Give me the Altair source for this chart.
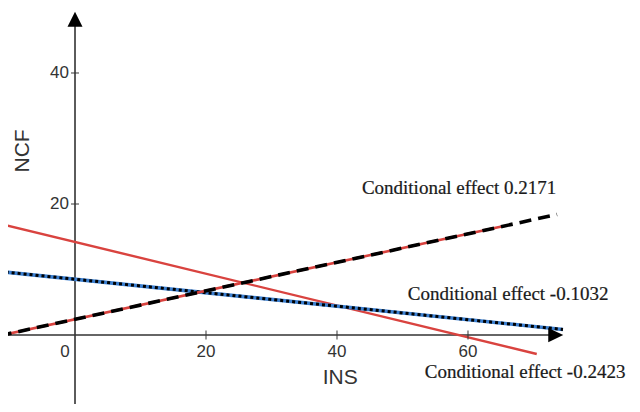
import altair as alt
import pandas as pd

# ---- data ----
low_x = [-11.5, 70.5]
low_y = [17.0, -2.9]
mid_x = [-11.5, 74.5]
mid_y = [9.7, 0.85]
high_red_x = [-11.5, 65.3]
high_red_y = [-0.1, 16.6]
high_dash_x = [-11.5, 73.6]
high_dash_y = [-0.1, 18.4]

x_ticks = [20, 40, 60]
y_ticks = [20, 40]

labels = ["Conditional effect 0.2171", "Conditional effect -0.1032", "Conditional effect -0.2423"]
label_x = [43.8, 50.8, 53.4]
label_y = [22.4, 6.3, -5.6]

XD = [-10.23, 85.04]
YD = [-10.53, 49.92]

xs = alt.Scale(domain=XD, nice=False, zero=False)
ys = alt.Scale(domain=YD, nice=False, zero=False)

def seg(x, y):
    return pd.DataFrame({"x": x, "y": y})

def line(df, color, width, dash=None):
    kw = dict(color=color, strokeWidth=width, clip=True)
    if dash:
        kw["strokeDash"] = dash
    return alt.Chart(df).mark_line(**kw).encode(
        x=alt.X("x:Q", scale=xs, axis=None), y=alt.Y("y:Q", scale=ys, axis=None))

axis_color = "#333333"

# axes lines
yaxis = alt.Chart(seg([0, 0], [YD[0], 48.5])).mark_line(color=axis_color, strokeWidth=1.6, clip=True).encode(
    x=alt.X("x:Q", scale=xs, axis=None), y=alt.Y("y:Q", scale=ys, axis=None))
xaxis = alt.Chart(seg([XD[0], 73.0], [0, 0])).mark_line(color=axis_color, strokeWidth=1.6, clip=True).encode(
    x=alt.X("x:Q", scale=xs, axis=None), y=alt.Y("y:Q", scale=ys, axis=None))

up_arrow = alt.Chart(pd.DataFrame({"x": [0], "y": [48.2]})).mark_point(
    shape="M0,-1L1,1L-1,1Z", size=225, filled=True, color="#000000", opacity=1, strokeWidth=0).encode(
    x=alt.X("x:Q", scale=xs, axis=None), y=alt.Y("y:Q", scale=ys, axis=None))
right_arrow = alt.Chart(pd.DataFrame({"x": [73.4], "y": [0]})).mark_point(
    shape="M1,0L-1,-0.95L-1,0.95Z", size=225, filled=True, color="#000000", opacity=1, strokeWidth=0).encode(
    x=alt.X("x:Q", scale=xs, axis=None), y=alt.Y("y:Q", scale=ys, axis=None))

xt_df = pd.DataFrame({"x": x_ticks, "y": [0] * len(x_ticks)})
yt_df = pd.DataFrame({"x": [0] * len(y_ticks), "y": y_ticks})

xtick_marks = alt.Chart(xt_df).mark_tick(orient="vertical", size=9, thickness=1.4, color=axis_color).encode(
    x=alt.X("x:Q", scale=xs, axis=None), y=alt.Y("y:Q", scale=ys, axis=None))
ytick_marks = alt.Chart(yt_df).mark_tick(orient="horizontal", size=8, thickness=1.4, color=axis_color).encode(
    x=alt.X("x:Q", scale=xs, axis=None), y=alt.Y("y:Q", scale=ys, axis=None))

xtick_labels = alt.Chart(xt_df).mark_text(font="Liberation Sans", fontSize=17, color=axis_color,
                                          baseline="middle", dy=17).encode(
    x=alt.X("x:Q", scale=xs, axis=None), y=alt.Y("y:Q", scale=ys, axis=None), text=alt.Text("x:Q"))
zero_label = alt.Chart(pd.DataFrame({"x": [0], "y": [0]})).mark_text(font="Liberation Sans", fontSize=17,
                                                                   color=axis_color, baseline="middle", dy=17, dx=-10).encode(
    x=alt.X("x:Q", scale=xs, axis=None), y=alt.Y("y:Q", scale=ys, axis=None), text=alt.Text("x:Q"))
ytick_labels = alt.Chart(yt_df).mark_text(font="Liberation Sans", fontSize=17, color=axis_color,
                                          baseline="middle", align="right", dx=-6, dy=0).encode(
    x=alt.X("x:Q", scale=xs, axis=None), y=alt.Y("y:Q", scale=ys, axis=None), text=alt.Text("y:Q"))

titles = alt.Chart(pd.DataFrame({"x": [-7.9, 40.5], "y": [28.1, -6.6], "t": ["NCF", "INS"], "a": [-90, 0]})).mark_text(
    font="Liberation Sans", fontSize=21, color=axis_color, baseline="middle").encode(
    x=alt.X("x:Q", scale=xs, axis=None), y=alt.Y("y:Q", scale=ys, axis=None), text="t:N",
    angle=alt.Angle("a:Q", scale=None))

ann = alt.Chart(pd.DataFrame({"x": label_x, "y": label_y, "t": labels})).mark_text(
    font="Liberation Serif", fontSize=19, color="#1a1a1a", stroke="#1a1a1a", strokeWidth=0.22,
    align="left", baseline="middle").encode(
    x=alt.X("x:Q", scale=xs, axis=None), y=alt.Y("y:Q", scale=ys, axis=None), text="t:N")

red = "#d9433f"
blue = "#3b7fd0"

chart = alt.layer(
    yaxis, xaxis,
    line(seg(low_x, low_y), red, 2.4),
    line(seg(mid_x, mid_y), blue, 3.6),
    line(seg(mid_x, mid_y), "#000000", 3.0, [3, 3]),
    line(seg(high_red_x, high_red_y), red, 2.6),
    line(seg(high_dash_x, high_dash_y), "#000000", 3.6, [12, 7]),
    up_arrow, right_arrow,
    xtick_marks, ytick_marks, xtick_labels, zero_label, ytick_labels,
    titles, ann,
).properties(width=624, height=396, padding=0, autosize="none").configure_view(stroke=None)

chart.save("out.html", embed_options={"renderer": "svg", "actions": False})
